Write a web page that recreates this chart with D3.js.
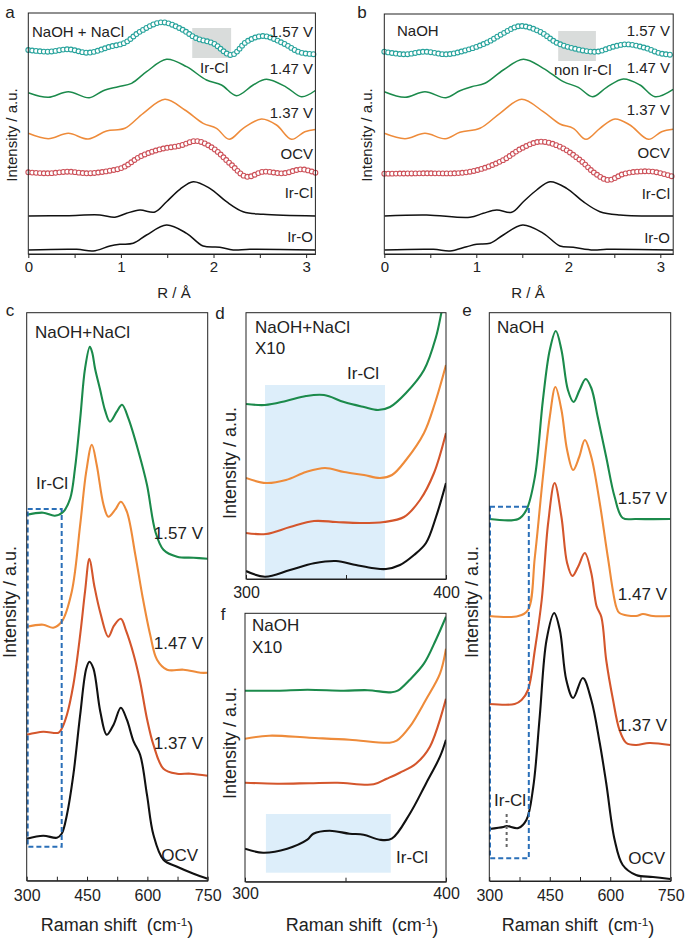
<!DOCTYPE html>
<html><head><meta charset="utf-8">
<script src="https://cdn.jsdelivr.net/npm/d3@7"></script>
<style>body{margin:0;background:#fff} svg text{font-family:"Liberation Sans",Arial,Helvetica,sans-serif;fill:#222}</style>
</head><body><svg id="fig" width="685" height="938"></svg>
<script>
// ---------- DATA (x, intensity offset in a.u.) ----------
// Panel a : FT-EXAFS, NaOH + NaCl
const a157 = [[0,204],[0.216,202.3],[0.432,204.7],[0.65,201.3],[0.88,207.3],[1.043,211.3],[1.205,222.3],[1.439,231.7],[1.637,225.7],[1.817,215.7],[1.996,210.7],[2.194,199],[2.356,212.3],[2.536,218],[2.752,210.7],[2.932,201.7],[3.1,199.7]];
const a147 = [[0,161.3],[0.216,156.7],[0.432,162.3],[0.658,156.3],[0.809,163.3],[0.971,167.3],[1.115,170.7],[1.277,182.3],[1.493,194.7],[1.709,187.3],[1.924,174],[2.086,169],[2.248,158.3],[2.428,169],[2.572,174.7],[2.788,166.7],[2.95,157.3],[3.1,163.5]];
const a137 = [[0,120.7],[0.216,115.3],[0.432,120.7],[0.647,115],[0.845,123],[1.043,125.7],[1.241,140.7],[1.475,154.7],[1.691,144],[1.888,130.7],[2.032,125.7],[2.169,114.7],[2.32,125.7],[2.518,135],[2.68,129],[2.842,114.7],[2.986,122.3],[3.1,124.5]];
const aOCV = [[0,81.7],[0.216,80.7],[0.432,82.3],[0.647,80.7],[0.881,83.3],[1.025,86.7],[1.205,97.3],[1.421,104.7],[1.637,108.3],[1.817,113],[1.996,105.7],[2.176,90.7],[2.356,77.3],[2.536,82.3],[2.752,80.7],[2.95,84.7],[3.1,81.3]];
const aIrCl = [[0,38],[0.414,38.3],[0.773,39],[0.935,36.7],[1.061,40.7],[1.205,44],[1.367,42],[1.493,52.3],[1.637,64.7],[1.781,72.3],[1.96,65.7],[2.14,52.3],[2.32,42.3],[2.536,39.7],[3.1,38]];
const aIrO = [[0,4],[0.522,4.7],[0.701,3],[0.881,8],[0.989,9.7],[1.133,10.7],[1.277,19],[1.493,29],[1.709,20.7],[1.888,8],[2.068,6.7],[2.212,4],[2.392,4.7],[3.1,4]];
// Panel b : FT-EXAFS, NaOH
const b157 = [[0,202.3],[0.225,199.7],[0.442,202.3],[0.678,199.7],[0.895,204],[1.112,211.3],[1.293,220.7],[1.475,228],[1.692,222.3],[1.873,211.3],[2.054,205.7],[2.308,202.3],[2.489,207.3],[2.634,209.7],[2.851,205.7],[2.996,200.7],[3.14,199]];
const b147 = [[0,162.3],[0.225,156.7],[0.442,162.3],[0.67,156.3],[0.822,163.3],[0.949,167.3],[1.094,170.7],[1.293,184],[1.511,194.7],[1.728,185.7],[1.946,172.3],[2.109,166.7],[2.264,157.3],[2.417,166.7],[2.598,175],[2.779,169],[2.942,157.3],[3.14,164.7]];
const b137 = [[0,120.7],[0.225,115.3],[0.442,120.7],[0.663,115.3],[0.822,121.7],[1.04,125.7],[1.257,140.7],[1.493,154.7],[1.728,142.3],[1.909,130],[2.054,125.7],[2.192,114.7],[2.344,125.7],[2.507,135],[2.67,129],[2.87,114.7],[3.014,122.3],[3.14,124.7]];
const bOCV = [[0,80.3],[0.424,80.7],[0.859,81.3],[1.076,85.7],[1.293,94],[1.493,105.7],[1.692,112.3],[1.909,107.3],[2.127,94],[2.29,80.7],[2.435,74],[2.598,80],[2.743,82.3],[2.924,82.3],[3.14,77.3]];
const bIrCl = [[0,38],[0.46,39],[0.931,36.7],[1.076,40.7],[1.221,44],[1.384,41.7],[1.511,52.3],[1.656,64],[1.801,72.3],[1.982,65.7],[2.163,52.3],[2.344,42.3],[2.562,39],[3.14,38]];
const bIrO = [[0,4],[0.533,4.7],[0.714,3],[0.895,7.3],[1.004,9.7],[1.149,10.7],[1.293,19],[1.504,29],[1.728,20.7],[1.909,8],[2.054,6.7],[2.272,4],[2.417,4.7],[3.14,4]];
// Panel c : Raman, NaOH+NaCl
const c157 = [[300,366],[341,368],[370,365],[391,369],[408,382],[420,412],[433,462],[445,512],[457,534],[463,528],[470,512],[482,492],[495,470],[507,459],[524,469],[537,476],[553,462],[578,429],[599,396],[620,349],[640,331],[674,324],[715,323],[750,322]];
const c147 = [[300,254],[341,256],[366,253],[387,259],[412,289],[433,356],[448,409],[462,436],[474,416],[491,376],[503,364],[520,371],[534,379],[549,369],[570,326],[588,284],[607,246],[624,221],[649,211],[690,211],[732,208],[750,208]];
const c137 = [[300,146],[341,149],[379,148],[387,152],[400,166],[416,196],[433,246],[445,289],[456,322],[468,295],[483,268],[503,244],[517,255],[534,262],[547,250],[566,226],[582,199],[599,162],[615,136],[640,112],[674,107],[707,107],[750,105]];
const cOCV = [[300,42],[341,45],[375,43],[387,47],[400,66],[416,106],[433,166],[448,212],[456,219],[466,212],[483,169],[499,146],[516,156],[534,173],[549,161],[566,139],[582,126],[599,86],[615,46],[640,21],[674,14],[715,7],[750,2]];
// Panel d : Raman X10, NaOH+NaCl
const d157 = [[300,175],[309.5,174],[320,178],[330,183],[339,184],[349,177],[359,172],[366,169],[372,172],[380,186],[389,209],[395,242],[398,269],[400,285]];
const d147 = [[300,101],[310,96],[320,99],[330,107],[339.5,111],[349,107],[359,104],[367,101],[373,104],[380,119],[389,146],[394.5,176],[400,214]];
const d137 = [[300,46],[310,45],[322,52],[334,58],[345,57],[357,56],[369,57],[379,62],[387,79],[394,106],[400,146]];
const dOCV = [[300,8],[309.5,2.3],[322,9],[334,15.7],[345,18],[355,14],[364,10.7],[370,10],[377,14],[384,24],[390,36],[395,62],[400,96]];
// Panel e : Raman, NaOH
const e157 = [[300,362],[372,362],[392,371],[413,404],[433,481],[450,531],[465,550],[479,531],[495,491],[509,479],[524,491],[539,502],[553,493],[569,464],[590,424],[611,384],[631,363],[664,362],[749,362]];
const e147 = [[300,265],[372,265],[396,271],[413,324],[433,404],[450,464],[464,494],[479,471],[493,431],[508,411],[523,424],[537,441],[553,424],[574,378],[594,324],[615,274],[623,268],[664,265],[681,267],[706,265],[749,265]];
const e137 = [[300,177],[363,177],[380,181],[396,191],[413,231],[430,281],[446,358],[462,398],[479,364],[493,318],[506,305],[520,314],[537,328],[553,308],[566,275],[578,264],[590,221],[607,181],[623,151],[640,138],[664,136],[697,138],[749,136]];
const eOCV = [[300,52],[335,54],[343,55],[372,53],[392,61],[409,94],[425,164],[442,241],[461,268],[475,251],[491,201],[508,183],[532,203],[553,181],[574,138],[590,98],[611,41],[631,16],[664,6],[706,4],[749,2]];
// Panel f : Raman X10, NaOH
const f157 = [[300,191],[316,191],[331,192],[349,191],[361,191.5],[373,189.4],[376,191],[382,202],[389,218],[395,242],[400,265]];
const f147 = [[300,143],[312,146],[332,144],[352,142],[372,139],[375.5,141],[382,155],[390,182],[397,208],[400,233]];
const f137 = [[300,99],[316,98],[332,98.5],[346,99],[364,97.4],[370.5,103],[377,109],[385,118],[392,135],[400,183]];
const fOCV = [[300,33],[309,29],[321,33],[331,42],[334,48],[342,51],[352,48],[359,47],[367,42],[373,43],[382,68],[390,98],[397,125],[400,142]];

// tick labels
const rTicks = [0,0.5,1,1.5,2,2.5,3];
const ramanTicks = [300,375,450,525,600,675,750];
const zoomTicks = [300,350,400];

// ---------- STYLE ----------
const C = {teal:'#27a39c', green:'#1b8a4b', orange:'#ee8b3a', red:'#d4562c', ocv:'#cc5058', black:'#111111'};
const svg = d3.select('#fig');
const line = d3.line().curve(d3.curveCatmullRom.alpha(0.5));

const panels = [
 {id:'a', box:[28.3,315.4,13,254], xd:[0,3.1], ticks:rTicks, tickLab:v=>Number.isInteger(v)?v:'', tickSize:4, tickLabY:13, fs:15,
  series:[[a157,C.teal,'o'],[a147,C.green],[a137,C.orange],[aOCV,C.ocv,'o'],[aIrCl,C.black],[aIrO,C.black]],
  rects:[{x:[1.77,2.19],y:[196,226],fill:'#d9dcdb'}],
  texts:[['a',10,12,'middle',17],['NaOH + NaCl',32,32,'start',15],['1.57 V',313,32,'end',15],['Ir-Cl',200,68,'start',15],['1.47 V',313,69,'end',15],['1.37 V',313,113,'end',15],['OCV',313,154,'end',15],['Ir-Cl',313,193,'end',15],['Ir-O',313,237,'end',15]],
  xlab:['R / Å',174,293,15], ylab:[12,135,15]},
 {id:'b', box:[384.3,673.2,14,254], xd:[0,3.14], ticks:rTicks, tickLab:v=>Number.isInteger(v)?v:'', tickSize:4, tickLabY:13, fs:15,
  series:[[b157,C.teal,'o'],[b147,C.green],[b137,C.orange],[bOCV,C.ocv,'o'],[bIrCl,C.black],[bIrO,C.black]],
  rects:[{x:[1.89,2.30],y:[193,223],fill:'#d9dcdb'}],
  texts:[['b',362,12,'middle',17],['NaOH',397,31,'start',15],['1.57 V',670,31,'end',15],['non Ir-Cl',554,70,'start',15],['1.47 V',670,68,'end',15],['1.37 V',670,110,'end',15],['OCV',670,153,'end',15],['Ir-Cl',670,194,'end',15],['Ir-O',670,238,'end',15]],
  xlab:['R / Å',528,293,15], ylab:[367,135,15]},
 {id:'c', box:[26.7,207.7,312.7,880.7], xd:[300,750], ticks:ramanTicks, tickLab:v=>(v%150===0)?v:'', tickSize:-4, tickLabY:15, fs:16,
  series:[[c157,C.green],[c147,C.orange],[c137,C.red],[cOCV,C.black]],
  rects:[], dashRects:[{x:[302.5,387],y:[34,371.7],stroke:'#2a6fb8'}],
  texts:[['c',10,310,'middle',17],['NaOH+NaCl',35,332,'start',17],['Ir-Cl',36,483,'start',17],['1.57 V',203,533,'end',17],['1.47 V',203,643,'end',17],['1.37 V',203,743,'end',17],['OCV',198,855,'end',17]],
  xlab:['Raman shift',117,925,18,true], ylab:[10,602,18]},
 {id:'d', box:[246,446,312.7,579], xd:[300,400], ticks:zoomTicks, tickLab:v=>(v===350)?'':v, tickSize:-4, tickLabY:13, fs:16,
  series:[[d157,C.green],[d147,C.orange],[d137,C.red],[dOCV,C.black]],
  rects:[{x:[309.5,369.5],y:[0,194],fill:'#ddeefa'}],
  texts:[['d',220,313,'middle',17],['NaOH+NaCl',255,327,'start',17],['X10',255,348,'start',17],['Ir-Cl',347,373,'start',17]],
  xlab:null, ylab:[230,463,18]},
 {id:'e', box:[489.3,670.7,312.7,881], xd:[300,750], ticks:ramanTicks, tickLab:v=>(v%150===0)?v:'', tickSize:-4, tickLabY:14, fs:16,
  series:[[e157,C.green],[e147,C.orange],[e137,C.red],[eOCV,C.black]],
  rects:[], dashRects:[{x:[301.7,398],y:[22.7,374.3],stroke:'#2a6fb8'}],
  vdash:{x:343,y:[34,68]},
  texts:[['e',467,310,'middle',17],['NaOH',497,327,'start',17],['1.57 V',667,498,'end',17],['1.47 V',667,594,'end',17],['1.37 V',667,725,'end',17],['OCV',665,858,'end',17],['Ir-Cl',494,800,'start',17]],
  xlab:['Raman shift',578,925,18,true], ylab:[472,602,18]},
 {id:'f', box:[245,446,613.3,881.7], xd:[300,400], ticks:zoomTicks, tickLab:v=>(v===350)?'':v, tickSize:-4, tickLabY:12, fs:16,
  series:[[f157,C.green],[f147,C.orange],[f137,C.red],[fOCV,C.black]],
  rects:[{x:[310.4,372.5],y:[9,67.7],fill:'#ddeefa'}],
  texts:[['f',223,614,'middle',17],['NaOH',252,625,'start',17],['X10',252,647,'start',17],['Ir-Cl',396,857,'start',17]],
  xlab:['Raman shift',362,925,18,true], ylab:[229.5,743,18]}
];

panels.forEach(p => {
  const [x0,x1,y0,y1] = p.box;
  const g = svg.append('g');
  const x = d3.scaleLinear().domain(p.xd).range([x0,x1]);
  const y = d3.scaleLinear().domain([0,y1-y0]).range([y1,y0]);
  const l = line.x(d=>x(d[0])).y(d=>y(d[1]));
  svg.append('clipPath').attr('id','clip'+p.id).append('rect')
     .attr('x',x0).attr('y',y0).attr('width',x1-x0).attr('height',y1-y0);
  // shaded regions
  (p.rects||[]).forEach(r => g.append('rect')
     .attr('x',x(r.x[0])).attr('width',x(r.x[1])-x(r.x[0]))
     .attr('y',y(r.y[1])).attr('height',y(r.y[0])-y(r.y[1])).attr('fill',r.fill));
  // series
  const big = p.id!=='a' && p.id!=='b';
  p.series.forEach(([data,col,mk]) => {
    const path = g.append('path').datum(data).attr('d',l).attr('fill','none')
      .attr('clip-path','url(#clip'+p.id+')')
      .attr('stroke', mk? d3.color(col).darker(0.6) : col)
      .attr('stroke-width', mk?1.0:(big?2.1:1.5)).attr('stroke-linejoin','round');
    if (mk) {
      const node = path.node(), L = node.getTotalLength();
      const pts = d3.range(0, L+0.1, 3.9).map(s => node.getPointAtLength(s));
      g.selectAll(null).data(pts).join('circle').attr('cx',d=>d.x).attr('cy',d=>d.y)
        .attr('r',2.4).attr('fill','#fff').attr('stroke',col).attr('stroke-width',1.1);
    }
  });
  (p.dashRects||[]).forEach(r => g.append('rect')
     .attr('x',x(r.x[0])).attr('width',x(r.x[1])-x(r.x[0]))
     .attr('y',y(r.y[1])).attr('height',y(r.y[0])-y(r.y[1]))
     .attr('fill','none').attr('stroke',r.stroke).attr('stroke-width',2).attr('stroke-dasharray','5,3'));
  if (p.vdash) g.append('line').attr('x1',x(p.vdash.x)).attr('x2',x(p.vdash.x))
     .attr('y1',y(p.vdash.y[0])).attr('y2',y(p.vdash.y[1]))
     .attr('stroke','#666').attr('stroke-width',2).attr('stroke-dasharray','3,3');
  // frame
  g.append('rect').attr('x',x0).attr('y',y0).attr('width',x1-x0).attr('height',y1-y0)
   .attr('fill','none').attr('stroke','#222').attr('stroke-width',1);
  // x axis
  const ax = g.append('g').attr('transform',`translate(0,${y1})`)
    .call(d3.axisBottom(x).tickValues(p.ticks).tickFormat(p.tickLab).tickSize(p.tickSize).tickSizeOuter(0));
  ax.select('.domain').attr('stroke','#222');
  ax.selectAll('.tick line').attr('stroke','#222');
  ax.selectAll('text').attr('y',p.tickLabY).attr('dy','0.35em')
    .style('font-size',p.fs+'px').style('font-family','"Liberation Sans",Arial,sans-serif').attr('fill','#222');
  // texts
  p.texts.forEach(([t,tx,ty,anc,fs]) => g.append('text').text(t).attr('x',tx).attr('y',ty)
     .attr('dy','0.35em').attr('text-anchor',anc).style('font-size',fs+'px'));
  if (p.xlab) {
    const [t,tx,ty,fs,raman] = p.xlab;
    const tt = g.append('text').attr('x',tx).attr('y',ty).attr('dy','0.35em').attr('text-anchor','middle').style('font-size',fs+'px');
    if (raman) {
      tt.append('tspan').text('Raman shift\u00a0\u00a0(cm');
      tt.append('tspan').text('-1').attr('dy','-0.45em').style('font-size',(fs*0.65)+'px');
      tt.append('tspan').text(')').attr('dy','0.45em');
    } else tt.text(t);
  }
  if (p.ylab) {
    const [tx,ty,fs] = p.ylab;
    g.append('text').text('Intensity / a.u.').attr('transform',`translate(${tx},${ty}) rotate(-90)`)
     .attr('dy','0.35em').attr('text-anchor','middle').style('font-size',fs+'px');
  }
});
</script></body></html>
